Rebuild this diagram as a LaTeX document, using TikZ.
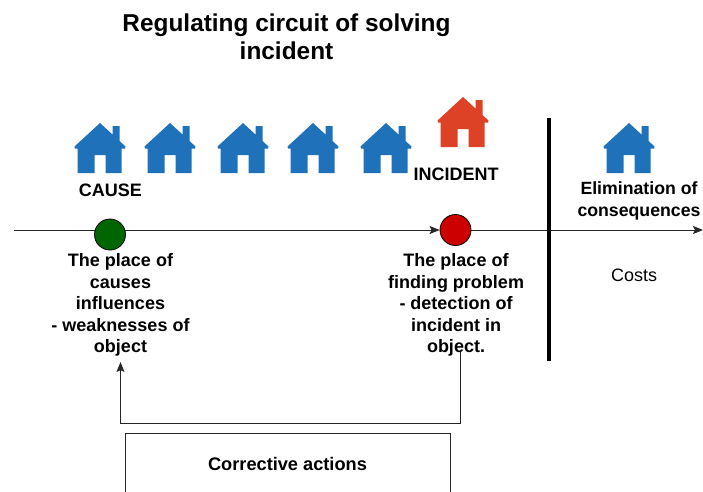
\documentclass[tikz,border=0pt]{standalone}
\usepackage{fontspec}
\setmainfont{Liberation Sans}
\usepackage{xcolor}
\usetikzlibrary{arrows.meta}
\definecolor{houseblue}{RGB}{31,113,186}
\definecolor{housered}{RGB}{222,66,38}
\definecolor{darkgreen}{RGB}{0,102,0}
\definecolor{darkred}{RGB}{204,0,0}

\tikzset{
  house/.pic={
    \fill[pic actions] (0, 0) -- (12.5, 11.5) -- (12.5, 3) -- (19.5, 3) -- (19.5, 18)
      -- (25.5, 23.5) -- (25, 25.5) -- (21.5, 25.5) -- (21.5, 50) -- (5.5, 50) -- (5.5, 32)
      -- (-5.5, 32) -- (-5.5, 50) -- (-22.5, 50) -- (-22.5, 25.5) -- (-25, 25.5) -- (-25.5, 23.5) -- cycle;
  },
  label/.style={font=\fontsize{18}{21.5}\selectfont\bfseries, align=center, inner sep=0},
  place/.style={circle, draw=black, line width=0.8, minimum size=31, inner sep=0},
  line/.style={line width=0.9, draw=black!85, >={Stealth[length=10, width=8, inset=2]}}
}

\begin{document}
\begin{tikzpicture}[x=1pt, y=-1pt]
  \useasboundingbox (0, 0) rectangle (703, 491);

  \node[label, font=\fontsize{24.4}{28}\selectfont\bfseries] (title) at (286.5, 37) {Regulating circuit of solving\\incident};

  \foreach \x in {100, 170, 243, 313, 386, 629} {
    \pic[fill=houseblue] at (\x, 123) {house};
  }
  \pic[fill=housered] at (463, 97) {house};

  \coordinate (start) at (14, 230);
  \coordinate (end) at (703, 230);
  \node[place, fill=darkred] (finding) at (455.5, 230) {};
  \draw[line, ->] (start) -- (finding);
  \draw[line, ->] (finding) -- (end);
  \node[place, fill=darkgreen] (causes) at (110, 234.5) {};

  \coordinate (bartop) at (549, 118);
  \coordinate (barbottom) at (549, 361);
  \draw[line width=4] (bartop) -- (barbottom);

  \node[label] (cause) at (110.5, 190) {CAUSE};
  \node[label] (incident) at (456, 174) {INCIDENT};
  \node[label, font=\fontsize{17.7}{21.5}\selectfont\bfseries] (elimination) at (639, 201) {Elimination of\\consequences};
  \node[label, font=\fontsize{18}{21.5}\selectfont] (costs) at (634, 275) {Costs};
  \node[label] (causetext) at (120.5, 305) {The place of\\causes\\influences\\- weaknesses of\\object};
  \node[label] (findingtext) at (456, 305) {The place of\\finding problem\\- detection of\\incident in\\object.};

  \node[draw=black!85, line width=0.9, minimum width=325, minimum height=62, inner sep=0, font=\fontsize{18.2}{21.5}\selectfont\bfseries] (corrective) at (287.5, 464) {Corrective actions};

  \coordinate (from) at (460.5, 352);
  \coordinate (to) at (120.5, 362);
  \coordinate (turn) at (460.5, 423);
  \draw[line, ->] (from) -- (turn) -| (to);
\end{tikzpicture}
\end{document}
